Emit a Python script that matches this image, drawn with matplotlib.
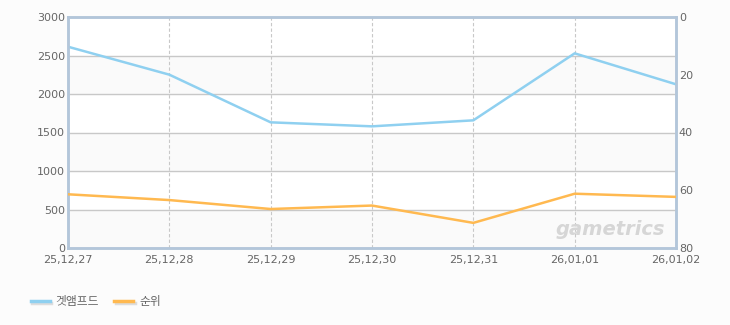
import matplotlib
matplotlib.use("Agg")
import matplotlib.pyplot as plt
from matplotlib.lines import Line2D
import matplotlib.patheffects as pe

plt.rcParams['font.family'] = ['DejaVu Sans', 'Noto Sans CJK KR']

dates = ["25.12.27", "25.12.28", "25.12.29", "25.12.30", "25.12.31", "26.01.01", "26.01.02"]
players = [2614, 2251, 1632, 1580, 1658, 2528, 2126]
rank = [61.4, 63.4, 66.5, 65.3, 71.3, 61.2, 62.3]
left_ticks = [0, 500, 1000, 1500, 2000, 2500, 3000]
right_ticks = [0, 20, 40, 60, 80]
series_names = ["겟앰프드", "순위"]

blue = "#8fd0f0"
orange = "#ffb950"
spine_c = "#b3c6da"
text_c = "#666666"

fig = plt.figure(figsize=(7.3, 3.25), dpi=100)
fig.patch.set_facecolor("#fcfcfc")
ax = fig.add_axes([68/730, 1-248/325, (676-68)/730, (248-17)/325])
ax.set_facecolor("white")
x = list(range(len(dates)))

# alternating bands
for i in range(len(left_ticks) - 1):
    if i % 2 == 0:
        ax.axhspan(left_ticks[i], left_ticks[i+1], color="#fafafa", zorder=0)
for t in left_ticks[1:-1]:
    ax.axhline(t, color="#c8c8c8", lw=1, zorder=1)
for xi in x[1:-1]:
    ax.axvline(xi, color="#c8c8c8", lw=0.8, ls=(0, (3, 2)), zorder=1)

ax.plot(x, players, color=blue, lw=1.8, zorder=3)
ax.set_xlim(0, len(dates) - 1)
ax.set_ylim(0, 3000)
ax.set_yticks(left_ticks)
ax.set_xticks(x)
ax.set_xticklabels([d.replace(".", ",") for d in dates])

ax2 = ax.twinx()
ax2.plot(x, rank, color=orange, lw=1.8, zorder=3)
ax2.set_ylim(80, 0)
ax2.set_yticks(right_ticks)

for a in (ax, ax2):
    for s in a.spines.values():
        s.set_color(spine_c)
        s.set_linewidth(1.8)
    a.tick_params(length=0, colors=text_c, labelsize=8)
ax.tick_params(axis="y", pad=2)
ax2.tick_params(axis="y", pad=2)
ax.tick_params(axis="x", pad=5)
for lab in ax.get_xticklabels():
    lab.set_color(text_c)

# watermark
ax.text(0.982, 0.04, "gametrics", transform=ax.transAxes, ha="right", va="bottom",
        fontsize=14, style="italic", fontweight="bold", color="#d6d6d6", zorder=2)

sh = [pe.SimpleLineShadow(offset=(1, -1), shadow_color="#dddddd", alpha=1), pe.Normal()]
handles = [Line2D([0], [0], color=blue, lw=2.5, path_effects=sh),
           Line2D([0], [0], color=orange, lw=2.5, path_effects=sh)]
leg = fig.legend(handles, series_names, loc="lower left", bbox_to_anchor=(20/730, 6/325),
                 ncol=2, frameon=False, handlelength=1.6, columnspacing=1.3, handletextpad=0.5,
                 prop={"family": ["Noto Sans CJK KR"], "size": 8.5})
for t in leg.get_texts():
    t.set_color(text_c)

fig.savefig("out.png", dpi=100, facecolor=fig.get_facecolor())
